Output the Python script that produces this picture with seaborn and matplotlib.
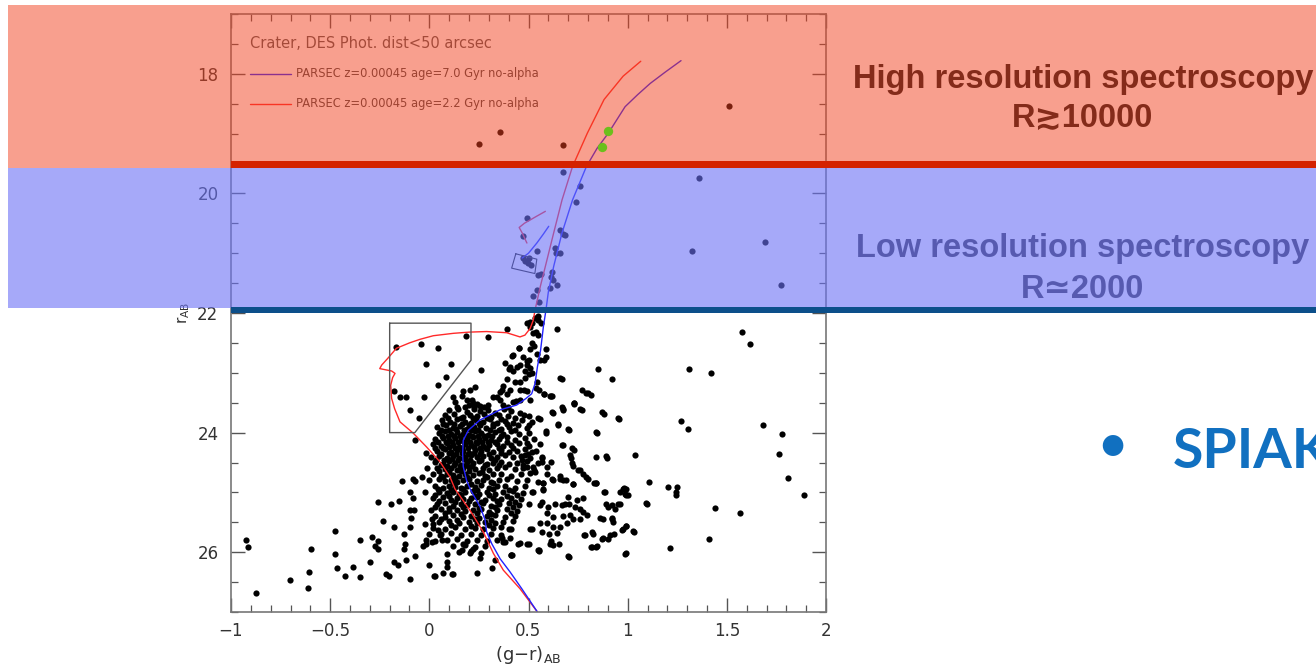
import matplotlib
matplotlib.use("Agg")
import matplotlib.pyplot as plt
import seaborn as sns
import pandas as pd
from matplotlib.patches import Rectangle
from matplotlib.ticker import MultipleLocator

sns.set_style("ticks")
plt.rcParams['font.family'] = ['DejaVu Sans']

# ---------------- data (g-r, r) ----------------
core_pts = [
    (0.10,23.63),(0.145,23.60),(0.19,23.66),(0.225,23.61),(0.255,23.64),(0.295,23.62),(0.33,23.67),(0.375,23.60),(0.41,23.645),(0.455,23.68),
    (0.08,23.71),(0.125,23.69),(0.17,23.735),(0.205,23.70),(0.24,23.72),(0.275,23.685),(0.31,23.745),(0.35,23.70),(0.395,23.725),(0.43,23.755),(0.475,23.71),
    (0.065,23.79),(0.105,23.825),(0.14,23.78),(0.18,23.815),(0.21,23.845),(0.235,23.79),(0.27,23.82),(0.305,23.78),(0.34,23.835),(0.38,23.80),(0.42,23.845),(0.465,23.79),(0.52,23.825),
    (0.04,23.91),(0.085,23.88),(0.12,23.925),(0.155,23.89),(0.19,23.935),(0.225,23.90),(0.255,23.87),(0.285,23.92),(0.32,23.89),(0.36,23.935),(0.40,23.90),(0.445,23.88),(0.49,23.92),
    (0.05,24.01),(0.08,23.975),(0.11,24.03),(0.14,23.99),(0.17,24.02),(0.20,24.045),(0.23,23.98),(0.26,24.01),(0.295,24.035),(0.33,23.99),(0.37,24.02),(0.41,23.98),(0.45,24.03),(0.50,24.00),
    (0.03,24.11),(0.07,24.085),(0.10,24.12),(0.13,24.09),(0.16,24.13),(0.19,24.10),(0.22,24.075),(0.25,24.115),(0.28,24.09),(0.31,24.125),(0.35,24.10),(0.39,24.08),(0.43,24.12),(0.48,24.095),(0.53,24.11),
    (0.02,24.19),(0.06,24.225),(0.09,24.18),(0.12,24.21),(0.15,24.235),(0.18,24.19),(0.21,24.215),(0.24,24.175),(0.27,24.225),(0.30,24.20),(0.34,24.185),(0.37,24.23),(0.41,24.20),(0.45,24.18),(0.50,24.22),(0.56,24.19),
    (0.04,24.30),(0.08,24.275),(0.11,24.32),(0.14,24.285),(0.17,24.31),(0.20,24.335),(0.23,24.29),(0.26,24.315),(0.29,24.28),(0.32,24.32),(0.36,24.295),(0.40,24.33),(0.44,24.30),(0.48,24.27),(0.54,24.31),
    (0.01,24.41),(0.05,24.385),(0.09,24.42),(0.12,24.395),(0.15,24.43),(0.18,24.40),(0.21,24.375),(0.24,24.415),(0.27,24.39),(0.31,24.425),(0.34,24.40),(0.38,24.38),(0.42,24.415),(0.46,24.39),(0.51,24.42),(0.57,24.40),
    (0.03,24.495),(0.07,24.52),(0.10,24.48),(0.13,24.51),(0.16,24.535),(0.19,24.49),(0.22,24.515),(0.25,24.475),(0.29,24.52),(0.32,24.50),(0.36,24.485),(0.40,24.525),(0.44,24.50),(0.49,24.48),(0.55,24.51),
    (-0.01,24.60),(0.04,24.585),(0.08,24.615),(0.11,24.59),(0.14,24.625),(0.17,24.60),(0.20,24.575),(0.23,24.61),(0.27,24.59),(0.30,24.62),(0.34,24.60),(0.38,24.58),(0.43,24.615),(0.47,24.59),(0.53,24.62),
    (0.02,24.70),(0.06,24.725),(0.09,24.685),(0.12,24.71),(0.15,24.73),(0.18,24.69),(0.22,24.715),(0.25,24.68),(0.28,24.72),(0.32,24.70),(0.36,24.685),(0.41,24.72),(0.46,24.70),(0.51,24.68),
    (0.00,24.80),(0.05,24.78),(0.08,24.815),(0.11,24.79),(0.14,24.825),(0.17,24.80),(0.20,24.775),(0.24,24.81),(0.27,24.79),(0.31,24.82),(0.35,24.80),(0.39,24.78),(0.44,24.815),(0.49,24.79),(0.55,24.82),
    (0.03,24.90),(0.07,24.925),(0.10,24.885),(0.13,24.91),(0.16,24.93),(0.19,24.89),(0.23,24.915),(0.26,24.88),(0.30,24.92),(0.34,24.90),(0.38,24.885),(0.43,24.92),(0.48,24.90),
    (-0.02,25.00),(0.05,24.985),(0.09,25.015),(0.12,24.99),(0.15,25.025),(0.18,25.00),(0.22,24.98),(0.25,25.02),(0.29,24.995),(0.33,25.025),(0.37,25.00),(0.42,24.98),(0.47,25.015),(0.52,25.00),
    (0.02,25.10),(0.07,25.085),(0.11,25.12),(0.14,25.09),(0.17,25.115),(0.21,25.10),(0.24,25.08),(0.28,25.12),(0.32,25.095),(0.36,25.115),(0.41,25.09),(0.46,25.11),
    (0.04,25.20),(0.08,25.185),(0.12,25.22),(0.16,25.19),(0.19,25.215),(0.23,25.195),(0.27,25.18),(0.31,25.22),(0.35,25.20),(0.40,25.185),(0.45,25.215),(0.50,25.20),
    (0.01,25.30),(0.06,25.285),(0.10,25.315),(0.14,25.29),(0.18,25.31),(0.22,25.295),(0.26,25.28),(0.30,25.32),(0.34,25.30),(0.39,25.285),(0.44,25.31),
    (0.03,25.40),(0.08,25.415),(0.12,25.385),(0.17,25.41),(0.21,25.39),(0.25,25.42),(0.29,25.40),(0.33,25.385),(0.38,25.41),(0.43,25.395),
    (0.05,25.50),(0.10,25.485),(0.15,25.515),(0.20,25.49),(0.24,25.51),(0.28,25.495),(0.33,25.52),(0.37,25.50),(0.42,25.485),
    (0.02,25.60),(0.08,25.615),(0.13,25.585),(0.18,25.61),(0.23,25.59),(0.27,25.62),(0.32,25.60),(0.36,25.585),(0.41,25.61),
    (0.06,25.70),(0.11,25.685),(0.16,25.715),(0.21,25.69),(0.26,25.71),(0.31,25.695),(0.36,25.72),
    (0.09,25.80),(0.14,25.785),(0.19,25.815),(0.24,25.79),(0.29,25.81),(0.34,25.795),
    (0.12,25.90),(0.18,25.885),(0.23,25.915),(0.28,25.895),
    (0.15,26.00),(0.21,25.985),(0.26,26.01),
]

core_fill_pts = [
    (0.095,23.76),(0.16,23.75),(0.22,23.76),(0.29,23.755),(0.36,23.765),
    (0.07,23.85),(0.125,23.86),(0.165,23.855),(0.20,23.87),(0.25,23.845),(0.32,23.855),(0.39,23.86),
    (0.06,23.95),(0.10,23.955),(0.135,23.945),(0.175,23.96),(0.21,23.955),(0.245,23.95),(0.305,23.955),(0.35,23.96),(0.43,23.95),
    (0.065,24.06),(0.095,24.055),(0.125,24.065),(0.155,24.05),(0.185,24.065),(0.215,24.055),(0.245,24.06),(0.275,24.055),(0.315,24.065),(0.36,24.05),
    (0.045,24.16),(0.085,24.155),(0.115,24.165),(0.145,24.15),(0.175,24.16),(0.205,24.165),(0.235,24.15),(0.265,24.16),(0.295,24.155),(0.33,24.165),(0.39,24.15),
    (0.03,24.25),(0.07,24.255),(0.10,24.245),(0.13,24.26),(0.165,24.25),(0.195,24.255),(0.225,24.245),(0.255,24.26),(0.285,24.25),(0.35,24.255),(0.42,24.25),
    (0.06,24.35),(0.10,24.345),(0.135,24.355),(0.165,24.345),(0.195,24.355),(0.225,24.34),(0.255,24.355),(0.30,24.35),(0.36,24.345),
    (0.035,24.45),(0.075,24.455),(0.115,24.445),(0.145,24.455),(0.175,24.445),(0.205,24.455),(0.26,24.45),(0.33,24.455),
    (0.06,24.55),(0.09,24.555),(0.125,24.545),(0.155,24.555),(0.185,24.545),(0.215,24.555),(0.28,24.55),(0.35,24.545),
    (0.05,24.65),(0.10,24.655),(0.16,24.645),(0.20,24.65),(0.265,24.655),
    (0.07,24.75),(0.13,24.755),(0.19,24.745),(0.29,24.75),
    (0.12,24.85),(0.21,24.855),(0.32,24.85),
]

core_low_pts = [
    (0.045,24.95),(0.11,24.955),(0.17,24.945),(0.24,24.955),(0.32,24.95),(0.40,24.955),
    (0.03,25.05),(0.10,25.055),(0.16,25.045),(0.23,25.06),(0.30,25.05),(0.39,25.055),(0.44,25.05),
    (0.05,25.15),(0.13,25.155),(0.20,25.145),(0.26,25.16),(0.34,25.15),(0.43,25.155),
    (0.03,25.25),(0.10,25.255),(0.17,25.245),(0.25,25.26),(0.33,25.25),(0.42,25.245),
    (0.08,25.35),(0.16,25.355),(0.24,25.345),(0.31,25.36),(0.41,25.35),
    (0.06,25.45),(0.14,25.455),(0.23,25.445),(0.31,25.46),
    (0.11,25.55),(0.21,25.555),(0.30,25.545),
]

rgb_pts = [
    (0.494,22.17),(0.508,22.23),(0.516,22.17),(0.550,22.11),(0.561,22.17),(0.538,22.31),(0.524,22.34),
    (0.506,22.15),(0.532,22.08),(0.549,22.05),(0.642,22.26),(0.550,22.37),(0.52,22.50),(0.51,22.61),(0.53,22.56),
    (0.59,22.61),(0.59,22.73),(0.56,22.79),(0.58,22.78),(0.545,22.69),
    (0.454,22.59),(0.415,22.72),(0.382,22.83),(0.407,22.91),(0.424,22.97),
    (0.457,22.87),(0.491,22.87),(0.505,22.78),(0.51,22.92),(0.50,23.02),(0.52,23.01),
    (0.483,23.09),(0.457,23.15),(0.394,23.10),(0.373,23.22),(0.367,23.28),(0.356,23.32),
    (0.407,23.29),(0.394,23.36),(0.432,23.15),(0.457,23.29),(0.478,23.29),
    (0.494,23.31),(0.508,23.46),(0.457,23.45),(0.437,23.47),(0.541,23.15),(0.538,23.26),(0.552,23.28),
    (0.578,23.36),(0.612,23.39),(0.667,23.11),(0.730,23.51),(0.676,23.61),
    (0.172,23.30),(0.205,23.28),(0.23,23.23),
    (0.121,23.41),(0.129,23.49),(0.163,23.39),(0.188,23.45),(0.214,23.46),(0.222,23.50),(0.239,23.53),
    (0.202,23.54),(0.180,23.57),(0.225,23.58),(0.256,23.56),(0.276,23.57),(0.298,23.54),(0.323,23.40),
    (0.340,23.41),(0.356,23.45),(0.373,23.54),(0.398,23.57),(0.424,23.49),(0.138,23.58),
    (0.45,22.58),(0.42,22.70),(0.40,22.93),(0.47,22.74),(0.49,22.80),(0.44,22.90),(0.48,22.97),
]

box_pts = [
    (-0.166,22.57),(-0.042,22.52),(0.043,22.59),(-0.016,22.85),(0.108,22.85),(0.185,22.38),(0.085,23.07),
    (0.045,23.21),(-0.18,23.31),(-0.15,23.41),(-0.12,23.41),(-0.025,23.41),(-0.10,23.63),(-0.05,23.75),
    (0.296,22.40),(0.263,22.95),(-0.073,24.13),(-0.018,24.34),(0.394,22.26),
]

right_pts = [
    (1.575,22.32),(1.618,22.52),(1.311,22.94),(1.422,23.01),(1.269,23.81),(1.304,23.94),(1.684,23.88),
    (1.780,24.02),(1.765,24.35),(1.806,24.76),(1.889,25.04),(1.036,24.37),(1.108,24.82),(1.202,24.91),
    (1.25,24.91),(1.245,25.00),(1.245,25.05),(1.090,25.18),(1.44,25.26),(1.568,25.34),(1.409,25.78),
    (1.215,25.93),(0.986,26.03),(1.027,25.65),(0.99,25.57),(0.975,25.61),(0.93,25.70),(0.90,25.78),
    (0.87,25.78),(0.84,25.91),(0.815,25.92),(0.78,25.72),(0.82,25.67),(0.70,26.07),(0.55,25.97),(0.41,26.04),
    (0.99,24.95),(0.985,25.02),(1.0,25.05),(0.95,25.20),(0.92,25.21),(0.89,25.20),(0.92,25.42),(0.86,25.42),
    (0.88,24.99),(0.83,24.84),(0.79,24.74),(0.75,24.63),(0.72,24.51),(0.71,24.38),(0.72,24.26),(0.84,24.40),
    (0.89,24.39),(0.84,23.99),(0.87,23.66),(0.95,23.76),(0.85,22.93),(0.92,23.10),(0.77,23.29),(0.80,23.33),
    (0.73,23.50),(0.76,23.60),(0.67,23.58),(0.70,23.94),(0.67,24.20),(0.66,23.08),(0.65,23.85),(0.62,23.66),
    (0.55,23.75),(0.59,23.97),(0.61,23.38),
]

mid_pts = [
    (0.580,23.36),(0.617,23.39),(0.789,23.33),(0.814,23.37),(0.731,23.52),(0.625,23.68),(0.676,23.62),
    (0.768,23.63),(0.883,23.69),(0.958,23.78),(0.503,23.72),(0.504,23.87),(0.558,23.78),(0.651,23.87),
    (0.705,23.96),(0.589,24.00),(0.847,24.01),(0.494,24.18),(0.673,24.21),(0.730,24.29),(0.516,24.32),
    (0.499,24.35),(0.483,24.38),(0.898,24.42),(0.715,24.43),(0.567,24.42),(0.567,24.49),(0.612,24.49),
    (0.466,24.46),(0.474,24.54),(0.491,24.57),(0.525,24.58),(0.533,24.66),(0.592,24.58),(0.592,24.70),
    (0.726,24.56),(0.760,24.63),(0.773,24.70),(0.617,24.78),(0.659,24.73),(0.659,24.77),(0.689,24.80),
    (0.802,24.78),(0.841,24.84),(0.726,24.86),(0.575,24.85),(0.575,24.95),(0.978,24.94),
    (0.572,24.85),(0.625,24.80),(0.676,24.80),(0.723,24.86),(0.839,24.84),(0.525,24.99),(0.575,24.96),
    (0.701,25.07),(0.773,25.09),(0.743,25.13),(0.886,25.00),(0.962,24.99),(0.982,24.93),(0.992,25.05),
    (1.096,25.19),(0.567,25.16),(0.558,25.21),(0.600,25.25),(0.634,25.19),(0.668,25.21),(0.684,25.19),
    (0.706,25.20),(0.735,25.24),(0.760,25.27),(0.777,25.33),(0.794,25.38),(0.903,25.25),(0.936,25.27),
    (0.962,25.19),(0.592,25.35),(0.622,25.41),(0.676,25.40),(0.710,25.38),(0.726,25.45),(0.760,25.44),
    (0.878,25.44),(0.920,25.44),(0.928,25.49),(0.558,25.52),(0.592,25.52),(0.625,25.58),(0.659,25.58),
    (0.693,25.52),(0.516,25.62),(0.567,25.66),(0.605,25.69),(0.642,25.68),(0.992,25.56),(0.970,25.63),
    (1.034,25.66),(0.785,25.72),(0.827,25.69),(0.878,25.77),(0.911,25.72),(0.457,25.84),(0.491,25.87),
    (0.555,25.97),(0.612,25.82),(0.622,25.88),(0.656,25.87),(0.819,25.92),(0.847,25.90),(0.992,26.02),
    (0.706,26.08),(0.412,26.05),(0.373,25.83),(0.407,25.77),
]

left_pts = [
    (-0.926,25.80),(-0.913,25.92),(-0.876,26.69),(-0.703,26.47),(-0.614,26.60),(-0.607,26.33),(-0.596,25.94),
    (-0.476,25.65),(-0.476,26.03),(-0.465,26.26),(-0.426,26.40),(-0.385,26.25),(-0.352,25.80),(-0.350,26.42),
    (-0.297,26.17),(-0.287,25.75),(-0.258,25.16),(-0.26,25.82),(-0.272,25.90),(-0.258,25.95),(-0.232,25.47),
    (-0.22,26.37),(-0.205,26.40),(-0.195,25.19),(-0.177,25.58),(-0.18,26.16),(-0.153,25.15),(-0.16,26.21),
    (-0.14,24.81),(-0.13,25.70),(-0.125,25.86),(-0.13,25.94),(-0.12,26.13),(-0.10,26.44),(-0.10,24.99),
    (-0.10,25.30),(-0.09,25.42),(-0.10,25.58),(-0.08,24.78),(-0.08,25.10),(-0.075,25.30),(-0.073,26.06),
    (-0.03,25.90),(-0.015,25.80),(0.0,25.70),(0.0,26.22),(0.025,26.39),(0.07,26.35),(0.12,26.37),
    (-0.072,24.81),(-0.038,24.74),(-0.022,25.53),(0.012,25.45),(0.017,25.53),(0.046,25.63),(0.054,25.72),
    (0.062,25.80),(0.012,25.83),(-0.017,25.86),(0.029,25.81),(0.088,26.03),(0.088,26.16),(0.091,26.25),
    (0.113,26.36),(0.029,26.40),(0.163,25.97),(0.172,25.87),(0.205,26.02),(0.256,26.09),(0.222,25.94),
    (0.239,26.35),(0.315,26.27),(0.416,26.05),(0.331,26.13),(0.365,25.77),(0.382,25.83),(0.449,25.86),
    (0.50,25.87),(0.555,25.98),(0.609,25.86),(0.404,25.62),(0.508,25.62),
]

bright_pts = [
    (0.676,19.65),(0.758,19.88),(0.737,20.14),(1.362,19.75),(0.494,20.41),(0.470,20.71),(0.542,20.96),
    (0.661,20.62),(0.682,20.70),(0.674,20.68),(0.633,20.91),(0.640,20.99),(0.659,20.99),
    (0.47,21.08),(0.50,21.08),(0.512,21.19),(0.495,21.16),(0.482,21.13),(0.547,21.36),(0.564,21.34),
    (0.619,21.32),(0.614,21.39),(0.623,21.44),(0.646,21.53),(0.606,21.58),(0.542,21.62),(0.521,21.71),
    (0.555,21.81),(1.322,20.96),(1.691,20.82),(1.771,21.54),
    (0.25,19.17),(0.356,18.98),(0.674,19.19),(1.513,18.54),
]

green_gr = [0.903, 0.873]
green_r = [18.96, 19.23]

iso7_gr = [0.545,0.466,0.407,0.357,0.315,0.289,0.281,0.256,0.208,0.188,0.171,0.168,0.171,0.197,0.255,0.356,
           0.44,0.487,0.516,0.533,0.545,0.561,0.575,0.588,0.60,0.627,0.669,0.722,0.792,0.845,0.903,0.987,
           1.05,1.114,1.19,1.269]
iso7_r = [27.0,26.61,26.33,26.11,25.86,25.66,25.46,25.24,24.96,24.80,24.57,24.35,24.13,23.96,23.79,23.62,
          23.54,23.43,23.35,23.18,22.90,22.62,22.23,21.95,21.65,21.22,20.66,20.11,19.55,19.25,18.99,18.55,
          18.35,18.16,17.97,17.78]
iso22_gr = [0.545,0.457,0.373,0.323,0.272,0.205,0.129,0.104,0.054,-0.014,-0.081,-0.148,-0.175,-0.19,-0.195,
            -0.185,-0.173,-0.19,-0.25,-0.24,-0.21,-0.166,-0.10,-0.047,0.02,0.121,0.20,0.289,0.39,0.457,0.482,
            0.508,0.524,0.533,0.56,0.585,0.627,0.669,0.722,0.797,0.881,0.977,1.066]
iso22_r = [27.0,26.61,26.30,26.02,25.66,25.30,24.94,24.74,24.49,24.24,24.01,23.82,23.60,23.43,23.21,
           23.08,23.01,22.97,22.93,22.87,22.76,22.59,22.50,22.44,22.38,22.34,22.32,22.31,22.33,22.40,22.37,
           22.26,22.12,21.95,21.55,21.22,20.66,20.11,19.55,18.99,18.43,18.04,17.79]
hb22_gr = [0.585,0.542,0.479,0.453,0.468,0.492]
hb22_r = [20.30,20.38,20.50,20.57,20.66,20.83]
hb7_gr = [0.602,0.575,0.542,0.50,0.468]
hb7_r = [20.55,20.68,20.83,21.00,21.08]

hbbox_gr = [-0.20, 0.21, 0.21, -0.073, -0.20, -0.20]
hbbox_r = [22.17, 22.17, 22.79, 24.0, 24.0, 22.17]
smallbox_gr = [0.436, 0.415, 0.532, 0.542, 0.436]
smallbox_r = [21.01, 21.25, 21.34, 21.10, 21.01]

x_ticks = [-1, -0.5, 0, 0.5, 1, 1.5, 2]
x_tick_labels = ['\u22121', '\u22120.5', '0', '0.5', '1', '1.5', '2']
y_ticks = [18, 20, 22, 24, 26]
y_tick_labels = ['18', '20', '22', '24', '26']

title_txt = "Crater, DES Phot. dist<50 arcsec"
leg7 = "PARSEC z=0.00045 age=7.0 Gyr no-alpha"
leg22 = "PARSEC z=0.00045 age=2.2 Gyr no-alpha"

# ---------------- figure ----------------
W, H = 1316, 668
fig = plt.figure(figsize=(W/100, H/100), dpi=100)
fig.patch.set_facecolor('white')
ax = fig.add_axes([231/W, 1-612/H, 595/W, 598/H])

all_pts = (core_pts + core_fill_pts + core_low_pts + rgb_pts + box_pts + right_pts
           + mid_pts + left_pts + bright_pts)
stars = pd.DataFrame(all_pts, columns=['gr', 'r'])
sns.scatterplot(data=stars, x='gr', y='r', ax=ax, color='black', s=20, linewidth=0, zorder=1)

def draw_line(xs, ys, color, lw=1.0, z=2):
    d = pd.DataFrame({'gr': xs, 'r': ys})
    sns.lineplot(data=d, x='gr', y='r', ax=ax, sort=False, estimator=None, color=color, lw=lw, zorder=z)

draw_line(iso22_gr, iso22_r, '#ff2a2a')
draw_line(iso7_gr, iso7_r, '#2222ff')
draw_line(hb22_gr, hb22_r, '#ff2a2a')
draw_line(hb7_gr, hb7_r, '#2222ff')
draw_line(hbbox_gr, hbbox_r, '#555555', lw=1.0)
draw_line(smallbox_gr, smallbox_r, '#222222', lw=0.8)

sns.scatterplot(x=green_gr, y=green_r, ax=ax, color='#6cbf1c', s=45, linewidth=0, zorder=6)

ax.set_xlim(-1, 2)
ax.set_ylim(27, 17)
ax.set_xticks(x_ticks)
ax.set_xticklabels(x_tick_labels)
ax.set_yticks(y_ticks)
ax.set_yticklabels(y_tick_labels)
ax.xaxis.set_minor_locator(MultipleLocator(0.1))
ax.yaxis.set_minor_locator(MultipleLocator(0.5))
ax.tick_params(which='both', direction='in', top=True, right=True, colors='#555555',
               labelcolor='#333333', labelsize=12)
ax.tick_params(which='major', length=10, width=1.0)
ax.tick_params(which='minor', length=5, width=0.9)
ax.tick_params(axis='y', which='major', pad=9)
ax.tick_params(axis='x', which='major', pad=7)
for s in ax.spines.values():
    s.set_color('#777777')
    s.set_linewidth(1.2)
ax.set_xlabel('(g\u2212r)$_{\\rm AB}$', fontsize=13, color='#333333', labelpad=3)
ax.set_ylabel('r$_{\\rm AB}$', fontsize=11, color='#333333', labelpad=4)

# in-plot legend
ax.text(-0.905, 17.5, title_txt, fontsize=10.5, color='#555555', va='center', ha='left', zorder=2)
ax.plot([-0.905, -0.70], [18.0, 18.0], color='#2222ff', lw=1.0)
ax.plot([-0.905, -0.70], [18.5, 18.5], color='#ff2a2a', lw=1.0)
ax.text(-0.67, 18.0, leg7, fontsize=8.3, color='#444444', va='center', ha='left', zorder=2)
ax.text(-0.67, 18.5, leg22, fontsize=8.3, color='#444444', va='center', ha='left', zorder=2)

# slide text under the coloured bands
tf = fig.transFigure
ax.text(1083/W, 1-88/H, "High resolution spectroscopy", transform=tf, ha='center', va='baseline',
        fontsize=23.5, fontweight='bold', family=['Liberation Sans', 'DejaVu Sans'], color='#151515', zorder=2.8)
ax.text(1083/W, 1-127/H, "R\u227310000", transform=tf, ha='center', va='baseline',
        fontsize=23.5, fontweight='bold', family=['Liberation Sans', 'DejaVu Sans'], color='#151515', zorder=2.8)
ax.text(1083/W, 1-257/H, "Low resolution spectroscopy", transform=tf, ha='center', va='baseline',
        fontsize=23.5, fontweight='bold', family=['Liberation Sans', 'DejaVu Sans'], color='#3a3a4a', zorder=2.8)
ax.text(1083/W, 1-298/H, "R\u22432000", transform=tf, ha='center', va='baseline',
        fontsize=23.5, fontweight='bold', family=['Liberation Sans', 'DejaVu Sans'], color='#3a3a4a', zorder=2.8)

# coloured bands (semi-transparent overlays)
ax.add_artist(Rectangle((8/W, 1-168/H), 1-8/W, 163/H, transform=tf, facecolor=(243/255, 65/255, 31/255),
                        alpha=0.5, edgecolor='none', clip_on=False, zorder=3))
ax.add_artist(Rectangle((8/W, 1-308/H), 1-8/W, 140/H, transform=tf, facecolor=(107/255, 113/255, 245/255),
                        alpha=0.6, edgecolor='none', clip_on=False, zorder=3))
ax.add_artist(Rectangle((231/W, 1-167.5/H), 1-231/W, 6.5/H, transform=tf, facecolor='#d42200',
                        edgecolor='none', clip_on=False, zorder=4))
ax.add_artist(Rectangle((231/W, 1-313/H), 1-231/W, 6/H, transform=tf, facecolor='#0c4f8a',
                        edgecolor='none', clip_on=False, zorder=4))

# bullet text (cut by the right edge, as on the slide)
ax.text(1112/W, 1-446/H, "\u2022", transform=tf, ha='center', va='center', fontsize=40,
        color='#1170c0', family=['Lato', 'DejaVu Sans'], zorder=5)
ax.text(1173/W, 1-468/H, "SPIAK", transform=tf, ha='left', va='baseline', fontsize=40,
        fontweight='bold', color='#1170c0', family=['Lato', 'DejaVu Sans'], zorder=5)

fig.savefig('out.png', dpi=100)
